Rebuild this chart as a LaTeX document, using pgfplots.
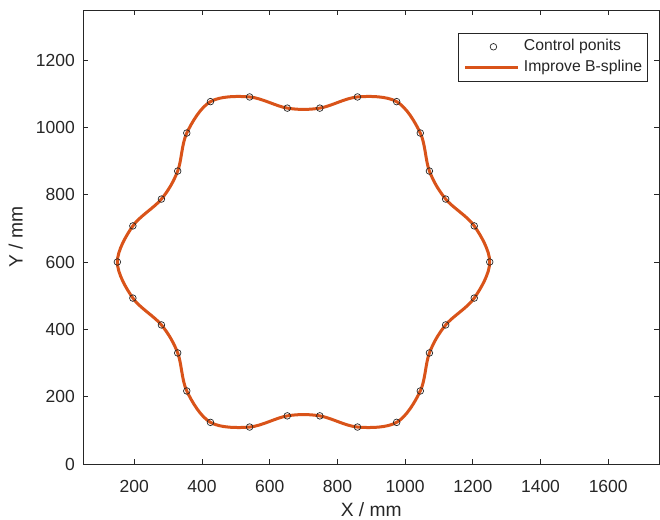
\documentclass[border=0pt]{standalone}
\usepackage{pgfplots}
\usepackage{pgfplotstable}
\pgfplotsset{compat=1.18}
\usepackage{fontspec}
\setmainfont{Liberation Sans}
\definecolor{axcol}{rgb}{0.15,0.15,0.15}
\definecolor{spl}{rgb}{0.85,0.325,0.098}
\pgfplotstableread{
x y
1250.00 600.00
1204.19 707.17
1119.82 786.92
1071.78 870.12
1044.90 983.05
975.00 1076.31
859.28 1090.22
748.04 1057.03
651.96 1057.03
540.72 1090.22
425.00 1076.31
355.10 983.05
328.22 870.12
280.18 786.92
195.81 707.17
150.00 600.00
195.81 492.83
280.18 413.08
328.22 329.88
355.10 216.95
425.00 123.69
540.72 109.78
651.96 142.97
748.04 142.97
859.28 109.78
975.00 123.69
1044.90 216.95
1071.78 329.88
1119.82 413.08
1204.19 492.83
}\ctrl
\begin{document}
\begin{tikzpicture}
\useasboundingbox (-83.5pt,-55pt) rectangle (576.5pt,464pt);
\begin{axis}[
  at={(0pt,0pt)}, anchor=south west,
  width=575.5pt, height=453.5pt, scale only axis,
  xmin=50, xmax=1750, ymin=0, ymax=1347,
  xtick={200,400,...,1600}, ytick={0,200,...,1200},
  tick align=inside, major tick length=5pt,
  axis line style={draw=axcol, line width=0.8pt},
  tick style={draw=axcol, line width=0.8pt},
  tick label style={font=\fontsize{17.5}{20}\selectfont, text=axcol},
  /pgf/number format/assume math mode=true,
  /pgf/number format/1000 sep={},
  xticklabel style={anchor=base, inner sep=0pt, yshift=-28.3pt},
  yticklabel style={anchor=east, inner sep=0pt, xshift=-8.5pt},
  xlabel={X / mm}, ylabel={Y / mm},
  label style={font=\fontsize{19.25}{22}\selectfont, text=axcol},
  xlabel style={at={(axis description cs:0.5,-0.1147)}, anchor=base, inner sep=0pt},
  ylabel style={at={(axis description cs:-0.1057,0.5)}, anchor=base, inner sep=0pt},
  legend style={at={(0.98088,0.95105)}, anchor=north east, draw=axcol, line width=0.8pt, fill=white,
    inner xsep=5.5pt, inner ysep=3.4pt, row sep=0pt, column sep=4pt,
    font=\fontsize{15.75}{18}\selectfont, text=axcol,
    nodes={inner sep=0pt, text height=14pt, text depth=6.6pt}},
  legend cell align=left,
]
\addplot[spl, line width=3pt, smooth cycle, tension=0.56, forget plot] table {\ctrl};
\addplot[only marks, mark=o, mark size=3.3pt, mark options={draw=black!85, line width=0.7pt}, forget plot] table {\ctrl};
\addlegendimage{legend image code/.code={\draw[black!85, line width=0.7pt] (28pt,0pt) circle[radius=3.3pt];}}
\addlegendentry{Control ponits}
\addlegendimage{legend image code/.code={\draw[spl, line width=3pt] (0pt,0pt) -- (53pt,0pt);}}
\addlegendentry{Improve B-spline}
\end{axis}
\end{tikzpicture}
\end{document}
